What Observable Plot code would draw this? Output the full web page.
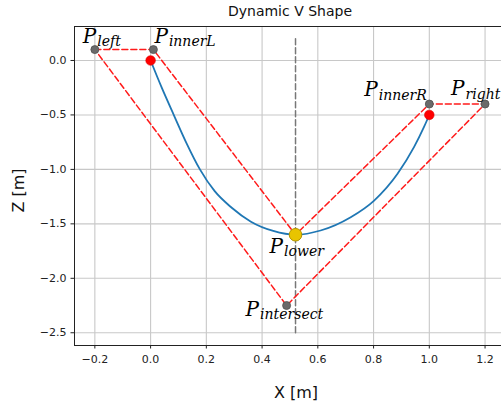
<!DOCTYPE html>
<html>
<head>
<meta charset="utf-8">
<script src="https://cdn.jsdelivr.net/npm/d3@7"></script>
<script src="https://cdn.jsdelivr.net/npm/@observablehq/plot@0.6"></script>
<style>
  html, body { margin: 0; padding: 0; background: white; }
  #chart { width: 501px; height: 405px; overflow: hidden; }
</style>
</head>
<body>
<div id="chart"></div>
<script>
// ---- data ----
const title = "Dynamic V Shape";
const xLabel = "X [m]";
const zLabel = "Z [m]";
const xTicks = [-0.2, 0.0, 0.2, 0.4, 0.6, 0.8, 1.0, 1.2];
const zTicks = [0.0, -0.5, -1.0, -1.5, -2.0, -2.5];
const xDomain = [-0.273, 1.259];
const zDomain = [-2.617, 0.312];

// blue curve
const curveX = [0, 0.04, 0.085, 0.13, 0.177, 0.23, 0.29, 0.36, 0.44, 0.52, 0.61, 0.718, 0.802, 0.886, 0.945, 0.981, 1.0];
const curveZ = [0, -0.25, -0.51, -0.765, -1.0, -1.2, -1.35, -1.48, -1.565, -1.60, -1.561, -1.439, -1.286, -1.04, -0.796, -0.61, -0.5];

// named points
const pointNames = ["left", "innerL", "innerR", "right", "lower", "intersect"];
const pointX = [-0.2, 0.01, 1.0, 1.2, 0.52, 0.488];
const pointZ = [0.1, 0.1, -0.4, -0.4, -1.6, -2.25];

// outline order of the red dashed polygon
const outlineOrder = ["left", "innerL", "lower", "innerR", "right", "intersect", "left"];

// red end points of the curve
const endX = [0.0, 1.0];
const endZ = [0.0, -0.5];

// vertical symmetry line
const symX = 0.52;
const symZ = [-2.5, 0.2];

// ---- build tables ----
const curve = curveX.map((x, i) => ({x, z: curveZ[i]}));
const points = pointNames.map((name, i) => ({name, x: pointX[i], z: pointZ[i]}));
const byName = Object.fromEntries(points.map(p => [p.name, p]));
const outline = outlineOrder.map(n => byName[n]);
const ends = endX.map((x, i) => ({x, z: endZ[i]}));
const sym = symZ.map(z => ({x: symX, z}));

// label pixel offsets (P left edge / baseline relative to the point)
const labelOffsets = {
  left: [-12, -7],
  innerL: [1, -7],
  innerR: [-65, -8],
  right: [-34, -9],
  lower: [-26, 18],
  intersect: [-41, 10]
};

const labelMarks = [];
for (const p of points) {
  const [dx, dy] = labelOffsets[p.name];
  labelMarks.push(Plot.text([p], {
    x: "x", y: "z", text: () => "P",
    textAnchor: "start", lineAnchor: "bottom",
    dx, dy, fontFamily: "DejaVu Serif", fontStyle: "italic",
    fontSize: 20, fill: "black"
  }));
  labelMarks.push(Plot.text([p], {
    x: "x", y: "z", text: "name",
    textAnchor: "start", lineAnchor: "bottom",
    dx: dx + 14.5, dy: dy + 3.5, fontFamily: "DejaVu Serif", fontStyle: "italic",
    fontSize: 14, fill: "black"
  }));
}

const plot = Plot.plot({
  width: 501,
  height: 405,
  marginLeft: 74,
  marginRight: 0,
  marginTop: 26,
  marginBottom: 60,
  style: {background: "white", fontFamily: "DejaVu Sans, sans-serif", fontSize: "11px", color: "#222", overflow: "visible"},
  x: {domain: xDomain},
  y: {domain: zDomain},
  marks: [
    Plot.gridX(xTicks, {stroke: "#c8c8c8", strokeOpacity: 1, strokeWidth: 1.1}),
    Plot.gridY(zTicks, {stroke: "#c8c8c8", strokeOpacity: 1, strokeWidth: 1.1}),
    Plot.ruleX([xDomain[0]], {stroke: "#222", strokeWidth: 1}),
    Plot.ruleY(zDomain, {stroke: "#222", strokeWidth: 1}),
    Plot.axisX(xTicks, {tickSize: 3.5, tickPadding: 6, tickFormat: d3.format(".1f"), label: null}),
    Plot.axisY(zTicks, {tickSize: 3.5, tickPadding: 4.5, tickFormat: d3.format(".1f"), label: null}),
    Plot.line(sym, {x: "x", y: "z", stroke: "#777", strokeWidth: 1.5, strokeDasharray: "6,3"}),
    Plot.line(outline, {x: "x", y: "z", stroke: "#ff1a1a", strokeWidth: 1.5, strokeDasharray: "6,3"}),
    Plot.line(curve, {x: "x", y: "z", stroke: "#1f77b4", strokeWidth: 1.8, curve: "monotone-x"}),
    Plot.dot(points.filter(p => p.name !== "lower"), {x: "x", y: "z", r: 4, fill: "#6a6a6a", stroke: "#505050", strokeWidth: 0.8}),
    Plot.dot(ends, {x: "x", y: "z", r: 4.8, fill: "#ff0000", stroke: "#e00000", strokeWidth: 0.6}),
    Plot.dot(points.filter(p => p.name === "lower"), {x: "x", y: "z", r: 6.3, fill: "#e8c400", stroke: "#b39500", strokeWidth: 1}),
    ...labelMarks,
    Plot.text([title], {frameAnchor: "top", dx: 2, dy: -10.5, lineAnchor: "bottom", fontSize: 14, fill: "#111"}),
    Plot.text([xLabel], {frameAnchor: "bottom", dx: 8, dy: 52, lineAnchor: "bottom", fontSize: 16, fill: "#111"}),
    Plot.text([zLabel], {frameAnchor: "left", dx: -55.5, dy: 4.5, rotate: -90, lineAnchor: "middle", textAnchor: "middle", fontSize: 16, fill: "#111"})
  ]
});
document.getElementById("chart").appendChild(plot);
</script>
</body>
</html>
